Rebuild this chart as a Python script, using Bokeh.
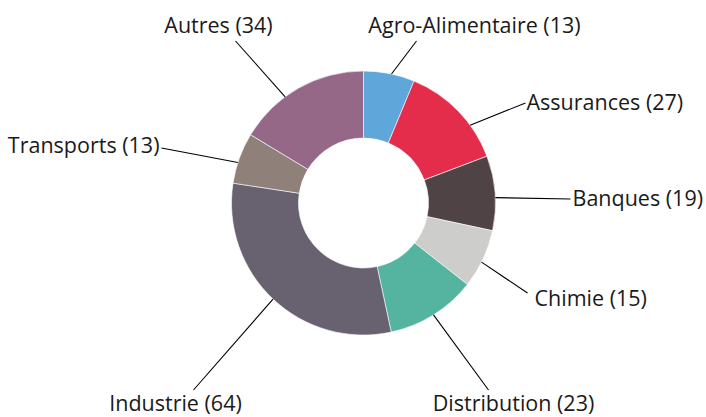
import math
from bokeh.plotting import figure
from bokeh.models import Range1d, ColumnDataSource
from bokeh.core.properties import value
from bokeh.embed import file_html
from bokeh.resources import INLINE

# ---- data ----
categories = ["Agro-Alimentaire", "Assurances", "Banques", "Chimie",
              "Distribution", "Industrie", "Transports", "Autres"]
counts = [13, 27, 19, 15, 23, 64, 13, 34]

# ---- style ----
colors = ["#5fa7db", "#e42d4b", "#4f4345", "#cdcdcc",
          "#55b4a0", "#686270", "#8f8179", "#956888"]
FONT = "Open Sans"
FONT_SIZE = "21.5px"
R_IN, R_OUT = 65, 132

# ---- label layout (pixels relative to chart centre, y up) ----
lead_end = [(53, 162), (162, 100), (207, 4), (164, -90),
            (125, -187), (-170, -187), (-202, 55), (-128, 162)]
lead_shift_deg = [1, 8, 2, 1.5, 0, 0, -2, -7]
TEXT_DY = 9
text_pos = [(111, 170), (163, 93), (209, -3), (171, -103),
            (150, -208), (-188, -208), (-204, 50), (-145, 170)]
text_align = ["center", "left", "left", "left",
              "center", "center", "right", "center"]

total = sum(counts)
starts, ends, mids = [], [], []
cum = 0
for c in counts:
    a0 = math.pi / 2 - cum / total * 2 * math.pi
    cum += c
    a1 = math.pi / 2 - cum / total * 2 * math.pi
    starts.append(a0)
    ends.append(a1)
    mids.append((a0 + a1) / 2)

src = ColumnDataSource(dict(start=starts, end=ends, color=colors))

W, H = 706, 417
cx, cy = 363, 202.5  # centre within canvas (pixels from left, from top)
p = figure(width=W, height=H, output_backend="svg", toolbar_location=None,
           x_range=Range1d(-cx, W - cx), y_range=Range1d(cy - H, cy),
           min_border=0)
p.axis.visible = False
p.grid.visible = False
p.outline_line_color = None
p.background_fill_color = "white"

p.annular_wedge(x=0, y=0, inner_radius=R_IN, outer_radius=R_OUT,
                start_angle="start", end_angle="end", direction="clock",
                fill_color="color", line_color="white", line_width=0.6,
                source=src)

xs, ys = [], []
for m, sh, (ex, ey) in zip(mids, lead_shift_deg, lead_end):
    a = m - math.radians(sh)
    xs.append([R_OUT * math.cos(a), ex])
    ys.append([R_OUT * math.sin(a), ey])
p.multi_line(xs=xs, ys=ys, line_color="black", line_width=1.1)

labels = [f"{c} ({n})" for c, n in zip(categories, counts)]
for lab, (tx, ty), al in zip(labels, text_pos, text_align):
    p.text(x=[tx], y=[ty + TEXT_DY], text=[lab], text_align=al,
           text_baseline="alphabetic", text_font=value(FONT),
           text_font_size=FONT_SIZE, text_color="#1a1a1a")

open("out.html", "w").write(file_html(p, INLINE))
